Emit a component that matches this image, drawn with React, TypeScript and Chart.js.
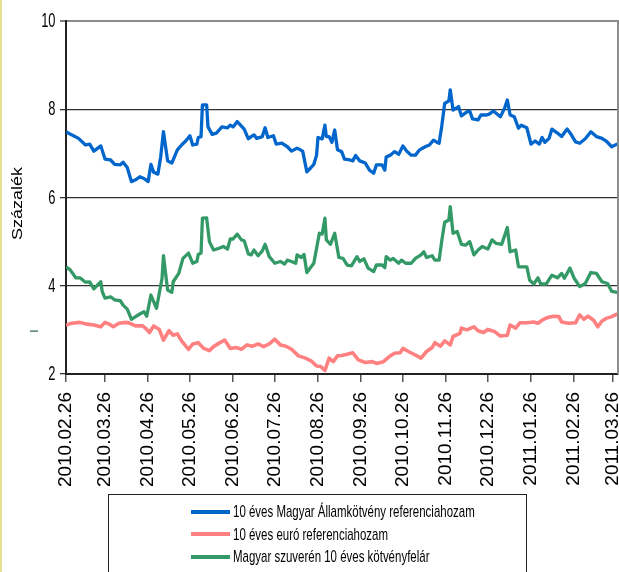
import React, { useEffect, useRef } from "react";
import { Chart, registerables } from "chart.js";

Chart.register(...registerables);

// x values are days since 2010.02.26
const tickDays: number[] = [0, 28, 59, 89, 120, 150, 181, 212, 242, 273, 303, 334, 365, 393];
const tickLabels: string[] = [
  "2010.02.26", "2010.03.26", "2010.04.26", "2010.05.26", "2010.06.26", "2010.07.26",
  "2010.08.26", "2010.09.26", "2010.10.26", "2010.11.26", "2010.12.26", "2011.01.26",
  "2011.02.26", "2011.03.26",
];
const yTicks: number[] = [2, 4, 6, 8, 10];

const seriesNames: string[] = [
  "10 éves Magyar Államkötvény referenciahozam",
  "10 éves euró referenciahozam",
  "Magyar szuverén 10 éves kötvényfelár",
];
const seriesColors: string[] = ["#0066CC", "#FF8080", "#339966"];

const huBond: [number, number][] = [
  [0, 7.49], [4, 7.42], [9, 7.34], [14, 7.19], [17, 7.21], [20, 7.05], [25, 7.17], [28, 6.87], [32, 6.85], [35, 6.75],
  [39, 6.74], [41, 6.8], [44, 6.68], [47, 6.36], [50, 6.4], [53, 6.47], [56, 6.43], [59, 6.36], [61, 6.75], [63, 6.57],
  [66, 6.53], [68, 6.92], [70, 7.49], [73, 6.83], [76, 6.78], [80, 7.08], [83, 7.19], [86, 7.28], [89, 7.4], [91, 7.19],
  [94, 7.21], [95, 7.36], [97, 7.38], [98, 8.1], [101, 8.1], [102, 7.6], [105, 7.43], [108, 7.46], [112, 7.6], [116, 7.58],
  [118, 7.64], [120, 7.6], [123, 7.72], [128, 7.55], [131, 7.33], [133, 7.38], [135, 7.42], [137, 7.34], [141, 7.38], [143, 7.58],
  [145, 7.36], [149, 7.4], [151, 7.21], [155, 7.23], [159, 7.15], [162, 7.05], [166, 7.12], [170, 7.05], [173, 6.58], [176, 6.68],
  [178, 6.75], [180, 6.96], [181, 7.36], [184, 7.33], [186, 7.64], [187, 7.38], [189, 7.38], [191, 7.25], [193, 7.53], [195, 7.08],
  [198, 7.04], [200, 6.87], [204, 6.85], [206, 6.83], [208, 6.95], [211, 6.83], [215, 6.78], [218, 6.62], [221, 6.55], [223, 6.74],
  [227, 6.74], [229, 6.62], [230, 6.92], [233, 6.96], [236, 7.04], [239, 6.98], [242, 7.17], [245, 7.04], [248, 6.96], [251, 6.96],
  [254, 7.08], [258, 7.15], [261, 7.19], [264, 7.3], [266, 7.26], [268, 7.23], [270, 7.64], [272, 8.13], [275, 8.19], [276, 8.44],
  [278, 7.98], [280, 8.02], [282, 8.06], [284, 7.85], [288, 7.94], [290, 7.96], [292, 7.78], [296, 7.76], [298, 7.87], [302, 7.87],
  [304, 7.89], [307, 7.96], [309, 7.91], [312, 7.83], [315, 8.02], [317, 8.21], [319, 7.87], [322, 7.83], [325, 7.57], [327, 7.64],
  [331, 7.58], [334, 7.21], [337, 7.28], [340, 7.21], [342, 7.36], [344, 7.25], [347, 7.34], [349, 7.55], [353, 7.46], [356, 7.38],
  [360, 7.55], [363, 7.42], [366, 7.26], [369, 7.23], [373, 7.33], [377, 7.49], [381, 7.38], [385, 7.34], [388, 7.28], [392, 7.15],
  [396, 7.21],
];

const euroBond: [number, number][] = [
  [0, 3.11], [4, 3.15], [10, 3.17], [15, 3.13], [20, 3.11], [25, 3.07], [28, 3.17], [31, 3.13], [34, 3.07], [38, 3.15],
  [43, 3.17], [46, 3.15], [50, 3.09], [55, 3.09], [57, 3.04], [60, 2.94], [63, 3.09], [67, 3.01], [70, 2.77], [74, 2.98],
  [77, 2.88], [80, 2.91], [83, 2.75], [88, 2.56], [91, 2.68], [95, 2.71], [99, 2.58], [103, 2.53], [106, 2.62], [110, 2.7],
  [114, 2.77], [118, 2.58], [122, 2.6], [126, 2.56], [130, 2.66], [134, 2.63], [138, 2.68], [142, 2.62], [146, 2.68], [150, 2.79],
  [154, 2.66], [158, 2.63], [162, 2.56], [167, 2.41], [172, 2.36], [176, 2.3], [180, 2.18], [183, 2.17], [186, 2.08], [189, 2.36],
  [192, 2.28], [195, 2.41], [198, 2.42], [202, 2.45], [206, 2.48], [210, 2.32], [215, 2.26], [220, 2.28], [223, 2.24], [228, 2.28],
  [232, 2.39], [236, 2.47], [240, 2.48], [242, 2.58], [246, 2.51], [251, 2.43], [255, 2.36], [259, 2.51], [263, 2.6], [265, 2.71],
  [269, 2.63], [272, 2.75], [276, 2.66], [278, 2.85], [283, 2.92], [284, 3.04], [288, 3.0], [293, 3.07], [296, 2.98], [300, 2.94],
  [303, 3.01], [308, 2.96], [312, 2.86], [317, 2.88], [319, 3.11], [323, 3.04], [326, 3.16], [331, 3.16], [336, 3.18], [339, 3.15],
  [343, 3.24], [346, 3.28], [350, 3.31], [354, 3.3], [356, 3.18], [361, 3.15], [366, 3.16], [369, 3.34], [372, 3.24], [375, 3.31],
  [379, 3.22], [382, 3.07], [385, 3.2], [388, 3.26], [392, 3.3], [396, 3.36],
];

const spread: [number, number][] = [
  [0, 4.43], [3, 4.36], [7, 4.18], [10, 4.18], [14, 4.08], [17, 4.09], [20, 3.93], [25, 4.09], [26, 3.87], [28, 3.72],
  [32, 3.75], [35, 3.68], [39, 3.66], [41, 3.56], [44, 3.47], [47, 3.24], [50, 3.3], [53, 3.36], [56, 3.41], [58, 3.31],
  [61, 3.79], [65, 3.49], [67, 3.83], [69, 4.17], [70, 4.68], [73, 3.9], [76, 3.85], [77, 4.09], [81, 4.28], [84, 4.62],
  [88, 4.74], [91, 4.51], [94, 4.55], [95, 4.71], [97, 4.74], [98, 5.53], [101, 5.54], [103, 5.0], [106, 4.81], [110, 4.85],
  [113, 4.89], [116, 4.83], [118, 5.06], [120, 5.06], [123, 5.17], [126, 5.04], [128, 5.02], [131, 4.72], [133, 4.7], [135, 4.81],
  [138, 4.68], [141, 4.79], [143, 4.94], [146, 4.66], [150, 4.51], [154, 4.55], [157, 4.49], [159, 4.58], [162, 4.55], [165, 4.51],
  [166, 4.7], [169, 4.64], [171, 4.71], [173, 4.3], [178, 4.51], [180, 4.85], [182, 5.19], [184, 5.17], [186, 5.53], [187, 5.04],
  [190, 4.94], [193, 5.19], [196, 4.64], [199, 4.62], [202, 4.47], [205, 4.45], [209, 4.66], [211, 4.55], [214, 4.61], [217, 4.4],
  [221, 4.32], [223, 4.47], [227, 4.47], [229, 4.41], [230, 4.66], [233, 4.58], [235, 4.62], [239, 4.51], [241, 4.58], [244, 4.51],
  [248, 4.51], [251, 4.62], [255, 4.7], [257, 4.77], [259, 4.64], [263, 4.68], [265, 4.58], [268, 4.58], [270, 5.04], [272, 5.44],
  [275, 5.49], [276, 5.79], [278, 5.19], [281, 5.23], [284, 4.94], [287, 4.92], [290, 5.0], [293, 4.7], [296, 4.81], [299, 4.89],
  [303, 4.83], [306, 5.04], [309, 4.96], [313, 4.94], [315, 5.13], [317, 5.32], [319, 4.77], [323, 4.81], [325, 4.43], [331, 4.43],
  [333, 4.13], [336, 4.04], [339, 4.18], [341, 4.04], [345, 4.04], [349, 4.24], [353, 4.18], [356, 4.28], [358, 4.17], [362, 4.4],
  [365, 4.17], [369, 3.98], [373, 4.05], [377, 4.3], [381, 4.28], [385, 4.09], [389, 4.05], [392, 3.87], [396, 3.85],
];

const FONT = '"Liberation Sans", Arial, Helvetica, sans-serif';

const decoPlugin = {
  id: "deco",
  afterDraw(chart: any) {
    const { ctx, chartArea, scales } = chart;
    const ys = scales.y;
    ctx.save();
    // right frame line
    ctx.strokeStyle = "#8c8c8c";
    ctx.lineWidth = 2;
    ctx.beginPath();
    ctx.moveTo(chartArea.right, chartArea.top - 1);
    ctx.lineTo(chartArea.right, chartArea.bottom);
    ctx.stroke();
    // y tick labels (condensed)
    ctx.fillStyle = "#000";
    ctx.font = `20px ${FONT}`;
    ctx.textAlign = "right";
    ctx.textBaseline = "middle";
    for (const v of yTicks) {
      const py = ys.getPixelForValue(v);
      ctx.save();
      ctx.translate(55.5, py + 0.5);
      ctx.scale(0.645, 1);
      ctx.fillText(String(v), 0, 0);
      ctx.restore();
    }
    // y axis title
    ctx.save();
    ctx.translate(21.7, 203.5);
    ctx.rotate(-Math.PI / 2);
    ctx.scale(1, 0.78);
    ctx.font = `18px ${FONT}`;
    ctx.textAlign = "center";
    ctx.textBaseline = "alphabetic";
    ctx.fillText("Százalék", 0, 0);
    ctx.restore();
    // small dash mark
    ctx.fillStyle = "#2f5f4a";
    ctx.fillRect(30, 330.5, 8, 1.2);
    ctx.restore();
  },
};

export default function App() {
  const canvasRef = useRef<HTMLCanvasElement | null>(null);

  useEffect(() => {
    if (!canvasRef.current) return;
    const toPts = (arr: [number, number][]) => arr.map(([x, y]) => ({ x, y }));
    const chart = new Chart(canvasRef.current, {
      type: "line",
      data: {
        datasets: [
          { label: seriesNames[0], data: toPts(huBond), borderColor: seriesColors[0], borderWidth: 3.3 },
          { label: seriesNames[1], data: toPts(euroBond), borderColor: seriesColors[1], borderWidth: 3.6 },
          { label: seriesNames[2], data: toPts(spread), borderColor: seriesColors[2], borderWidth: 3.3 },
        ].map((d) => ({ ...d, pointRadius: 0, tension: 0, fill: false, borderJoinStyle: "round" as const })),
      },
      options: {
        animation: false,
        responsive: false,
        maintainAspectRatio: false,
        layout: { padding: { left: 0, right: 1, top: 21, bottom: 78 } },
        plugins: {
          legend: { display: false },
          tooltip: { enabled: false },
          title: { display: false },
        },
        scales: {
          x: {
            type: "linear",
            min: 0,
            max: 396.5,
            afterBuildTicks: (s: any) => {
              s.ticks = tickDays.map((v) => ({ value: v }));
            },
            afterFit: (s: any) => {
              s.height = 120;
              s.paddingLeft = 0;
              s.paddingRight = 0;
            },
            ticks: {
              autoSkip: false,
              maxRotation: 90,
              minRotation: 90,
              padding: 10,
              color: "#000",
              font: { size: 19, family: FONT },
              callback: (v: any) => {
                const i = tickDays.indexOf(Number(v));
                return i >= 0 ? tickLabels[i] : "";
              },
            },
            grid: {
              drawOnChartArea: false,
              drawTicks: true,
              tickLength: 8,
              color: "#555",
              lineWidth: 1.5,
            },
            border: { display: true, color: "#222", width: 2 },
          },
          y: {
            type: "linear",
            min: 2,
            max: 10,
            afterBuildTicks: (s: any) => {
              s.ticks = yTicks.map((v) => ({ value: v }));
            },
            afterFit: (s: any) => {
              s.width = 66;
              s.paddingTop = 0;
              s.paddingBottom = 0;
            },
            ticks: { display: false },
            grid: {
              color: (c: any) => (c.tick && c.tick.value === 10 ? "#8c8c8c" : "#333"),
              lineWidth: (c: any) => (c.tick && c.tick.value === 10 ? 2 : 1.3),
              drawTicks: true,
              tickLength: 6,
              tickColor: "#333",
              tickWidth: 1.3,
            },
            border: { display: true, color: "#222", width: 2 },
          },
        },
      },
      plugins: [decoPlugin],
    });
    return () => chart.destroy();
  }, []);

  const rows = [511.7, 534, 556.5];

  return (
    <div
      style={{
        position: "absolute",
        left: 0,
        top: 0,
        width: 619,
        height: 572,
        overflow: "hidden",
        background: "#fff",
      }}
    >
      <canvas ref={canvasRef} width={619} height={572} style={{ display: "block", position: "absolute", left: 0, top: 0 }} />
      <div style={{ position: "absolute", left: 0, top: 0, width: 2, height: 572, background: "#e6e096" }} />
      <div
        style={{
          position: "absolute",
          left: 108,
          top: 494,
          width: 419,
          height: 110,
          border: "1px solid #222",
          boxSizing: "border-box",
        }}
      />
      {seriesNames.map((name, i) => (
        <React.Fragment key={name}>
          <div
            style={{
              position: "absolute",
              left: 191,
              top: rows[i] - 2,
              width: 39,
              height: 4,
              background: seriesColors[i],
            }}
          />
          <div
            style={{
              position: "absolute",
              left: 233,
              top: rows[i] - 8.3,
              fontFamily: FONT,
              fontSize: 17,
              lineHeight: "17px",
              color: "#000",
              whiteSpace: "nowrap",
              transform: "scaleX(0.675)",
              transformOrigin: "left center",
            }}
          >
            {name}
          </div>
        </React.Fragment>
      ))}
    </div>
  );
}
